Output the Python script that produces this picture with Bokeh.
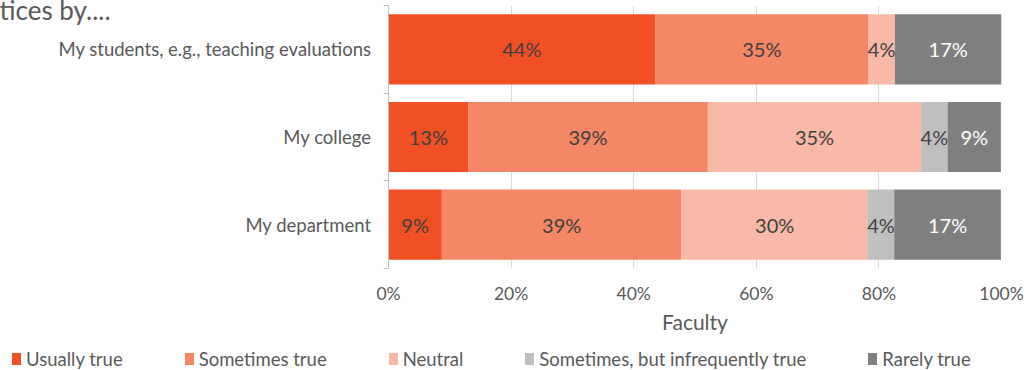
from bokeh.plotting import figure
from bokeh.layouts import column
from bokeh.models import (ColumnDataSource, Range1d, FixedTicker, Title, Div,
                          PrintfTickFormatter)
from bokeh.core.properties import value
from bokeh.embed import file_html
from bokeh.resources import INLINE

# ---- data ----
categories = ["My department", "My college", "My students, e.g., teaching evaluations"]
series = ["Usually true", "Sometimes true", "Neutral", "Sometimes, but infrequently true", "Rarely true"]
usually_true = [8.7, 13.0, 43.5]
sometimes_true = [39.1, 39.1, 34.8]
neutral = [30.4, 34.8, 4.3]
infrequently_true = [4.3, 4.3, 0.0]
rarely_true = [17.4, 8.7, 17.4]
x_ticks = [0, 20, 40, 60, 80, 100]
title_text = "tices by...."
x_label = "Faculty"

colors = ["#F15025", "#F58666", "#F8B9A6", "#BFBFBF", "#7F7F7F"]
label_colors = ["#3F3F3F", "#3F3F3F", "#3F3F3F", "#3F3F3F", "#FFFFFF"]
FONT = "Lato"
TXT = "#595959"

values = [usually_true, sometimes_true, neutral, infrequently_true, rarely_true]
ypos = [i + 0.5 for i in range(len(categories))]

p = figure(width=1027, height=342, output_backend="svg", toolbar_location=None,
           x_range=Range1d(0, 100), y_range=Range1d(0, len(categories)),
           min_border_left=388, min_border_right=26, min_border_top=5, min_border_bottom=74)
p.outline_line_color = None
p.background_fill_color = "white"
p.border_fill_color = "white"

left = [0.0] * len(categories)
for s, vals, col, lc in zip(series, values, colors, label_colors):
    right = [l + v for l, v in zip(left, vals)]
    src = ColumnDataSource(dict(y=ypos, left=left, right=right,
                                mid=[(l + r) / 2 for l, r in zip(left, right)],
                                lab=[f"{round(v)}%" if v > 0 else "" for v in vals]))
    p.hbar(y="y", left="left", right="right", height=0.8, source=src,
           fill_color=col, line_color=None)
    p.text(x="mid", y="y", text="lab", source=src, text_align="center", text_baseline="middle",
           text_font=value(FONT), text_font_size="20px", text_color=lc)
    left = right

# axes
p.xgrid.ticker = FixedTicker(ticks=x_ticks)
p.xgrid.grid_line_color = "#D9D9D9"
p.ygrid.grid_line_color = None

xa = p.xaxis[0]
xa.ticker = FixedTicker(ticks=x_ticks)
xa.formatter = PrintfTickFormatter(format="%d%%")
xa.axis_line_color = None
xa.major_tick_line_color = None
xa.minor_tick_line_color = None
xa.major_label_standoff = 8
xa.major_label_text_font = FONT
xa.major_label_text_font_size = "17.5px"
xa.major_label_text_color = TXT
xa.axis_label = x_label
xa.axis_label_text_font = FONT
xa.axis_label_text_font_size = "21px"
xa.axis_label_text_font_style = "normal"
xa.axis_label_text_color = TXT
xa.axis_label_standoff = 2

ya = p.yaxis[0]
ya.ticker = FixedTicker(ticks=ypos, minor_ticks=list(range(len(categories) + 1)))
ya.major_label_overrides = {y: c for y, c in zip(ypos, categories)}
ya.axis_line_color = "#BFBFBF"
ya.major_tick_line_color = None
ya.major_tick_out = 0
ya.major_tick_in = 0
ya.minor_tick_line_color = "#BFBFBF"
ya.minor_tick_out = 5
ya.minor_tick_in = 0
ya.major_label_standoff = 12
ya.major_label_text_font = FONT
ya.major_label_text_font_size = "18.5px"
ya.major_label_text_color = TXT

# title (partially cut as in original)
p.add_layout(Title(text=title_text, align="left", offset=-389, standoff=-40,
                   text_font=FONT, text_font_size="26px", text_font_style="normal",
                   text_color=TXT), "above")

# legend strip
gap = 62
item_html = []
for s, col in zip(series, colors):
    item_html.append(
        f'<span style="display:inline-flex;align-items:center;margin-right:{gap}px">'
        f'<span style="display:inline-block;width:9px;height:12px;background:{col};'
        f'margin-right:5px"></span>{s}</span>')
legend_div = Div(text="".join(item_html), width=1027, height=28, margin=0,
                 styles={"font-family": FONT, "font-size": "18.5px", "color": TXT,
                         "white-space": "nowrap", "padding-left": "12px",
                         "padding-top": "2px", "line-height": "28px"})

layout = column(p, legend_div, spacing=0)
open("out.html", "w").write(file_html(layout, INLINE))
